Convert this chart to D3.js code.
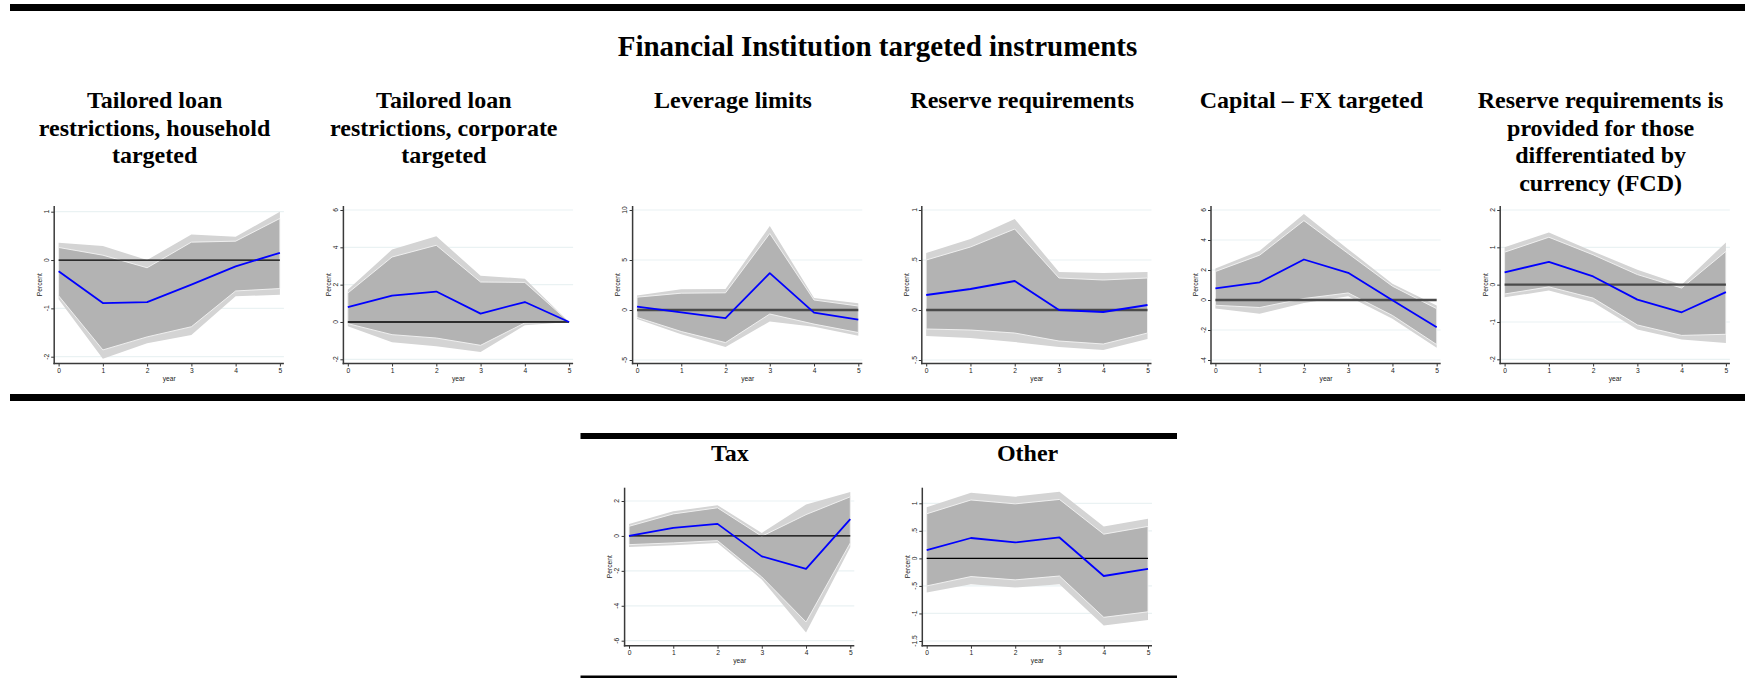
<!DOCTYPE html>
<html>
<head>
<meta charset="utf-8">
<script src="https://cdn.jsdelivr.net/npm/d3@7"></script>
<style>
  body { margin: 0; background: #fff; }
  svg { display: block; }
</style>
</head>
<body>
<svg id="chart" width="1745" height="678"></svg>
<script>
// ---- Data: impulse responses (Percent) by year, with 68% and 90% bands ----
const years = [0, 1, 2, 3, 4, 5];

const mainTitle = "Financial Institution targeted instruments";

// Tailored loan restrictions, household targeted
const hhIrf  = [-0.23, -0.89, -0.87, -0.51, -0.13, 0.15];
const hhLo68 = [-0.74, -1.86, -1.59, -1.38, -0.64, -0.59];
const hhHi68 = [0.26, 0.10, -0.16, 0.37, 0.39, 0.86];
const hhLo90 = [-0.81, -2.04, -1.72, -1.55, -0.75, -0.72];
const hhHi90 = [0.36, 0.29, 0.00, 0.53, 0.48, 1.00];
const hhTicks = [-2, -1, 0, 1];

// Tailored loan restrictions, corporate targeted
const corpIrf  = [0.79, 1.41, 1.63, 0.45, 1.07, 0];
const corpLo68 = [-0.09, -0.68, -0.86, -1.25, -0.05, 0];
const corpHi68 = [1.55, 3.48, 4.11, 2.14, 2.12, 0];
const corpLo90 = [-0.23, -1.09, -1.30, -1.61, -0.18, 0];
const corpHi90 = [1.73, 3.88, 4.59, 2.48, 2.32, 0];
const corpTicks = [-2, 0, 2, 4, 6];

// Leverage limits
const levIrf  = [0.34, -0.23, -0.81, 3.69, -0.27, -0.97];
const levLo68 = [-0.74, -2.15, -3.26, -0.40, -1.41, -2.25];
const levHi68 = [1.28, 1.68, 1.72, 7.65, 1.00, 0.40];
const levLo90 = [-0.91, -2.42, -3.69, -1.14, -1.68, -2.58];
const levHi90 = [1.44, 2.08, 2.11, 8.39, 1.21, 0.67];
const levTicks = [-5, 0, 5, 10];

// Reserve requirements
const rrIrf  = [0.15, 0.21, 0.29, 0.00, -0.02, 0.05];
const rrLo68 = [-0.19, -0.20, -0.23, -0.31, -0.34, -0.23];
const rrHi68 = [0.50, 0.63, 0.81, 0.32, 0.30, 0.32];
const rrLo90 = [-0.26, -0.28, -0.32, -0.37, -0.40, -0.29];
const rrHi90 = [0.57, 0.71, 0.91, 0.38, 0.37, 0.38];
const rrTicks = [-0.5, 0, 0.5, 1];

// Capital – FX targeted
const fxIrf  = [0.78, 1.18, 2.70, 1.81, -0.02, -1.81];
const fxLo68 = [-0.35, -0.50, 0.10, 0.47, -1.03, -2.97];
const fxHi68 = [1.90, 2.99, 5.29, 3.10, 0.92, -0.58];
const fxLo90 = [-0.57, -0.91, -0.20, 0.25, -1.25, -3.19];
const fxHi90 = [2.10, 3.28, 5.74, 3.39, 1.09, -0.36];
const fxTicks = [-4, -2, 0, 2, 4, 6];

// Reserve requirements differentiated by currency (FCD)
const fcdIrf  = [0.33, 0.61, 0.22, -0.40, -0.74, -0.20];
const fcdLo68 = [-0.25, -0.06, -0.36, -1.08, -1.36, -1.33];
const fcdHi68 = [0.87, 1.27, 0.80, 0.27, -0.09, 0.89];
const fcdLo90 = [-0.34, -0.16, -0.47, -1.20, -1.47, -1.56];
const fcdHi90 = [1.00, 1.40, 0.89, 0.40, 0.00, 1.13];
const fcdTicks = [-2, -1, 0, 1, 2];

// Tax
const taxIrf  = [0.00, 0.46, 0.69, -1.17, -1.89, 0.96];
const taxLo68 = [-0.50, -0.40, -0.27, -2.35, -4.93, -0.40];
const taxHi68 = [0.55, 1.26, 1.61, -0.02, 1.22, 2.24];
const taxLo90 = [-0.63, -0.54, -0.40, -2.50, -5.53, -0.65];
const taxHi90 = [0.69, 1.41, 1.76, 0.17, 1.80, 2.52];
const taxTicks = [-6, -4, -2, 0, 2];

// Other
const othIrf  = [0.15, 0.37, 0.29, 0.38, -0.32, -0.19];
const othLo68 = [-0.50, -0.33, -0.39, -0.32, -1.07, -0.97];
const othHi68 = [0.81, 1.06, 0.99, 1.07, 0.44, 0.58];
const othLo90 = [-0.62, -0.47, -0.53, -0.47, -1.22, -1.12];
const othHi90 = [0.93, 1.19, 1.12, 1.21, 0.58, 0.72];
const othTicks = [-1.5, -1, -0.5, 0, 0.5, 1];

const panelTitles = [
  ["Tailored loan", "restrictions, household", "targeted"],
  ["Tailored loan", "restrictions, corporate", "targeted"],
  ["Leverage limits"],
  ["Reserve requirements"],
  ["Capital \u2013 FX targeted"],
  ["Reserve requirements is", "provided for those", "differentiated by", "currency (FCD)"],
  ["Tax"],
  ["Other"]
];

const series = [
  { irf: hhIrf,   lo68: hhLo68,   hi68: hhHi68,   lo90: hhLo90,   hi90: hhHi90,   ticks: hhTicks },
  { irf: corpIrf, lo68: corpLo68, hi68: corpHi68, lo90: corpLo90, hi90: corpHi90, ticks: corpTicks },
  { irf: levIrf,  lo68: levLo68,  hi68: levHi68,  lo90: levLo90,  hi90: levHi90,  ticks: levTicks },
  { irf: rrIrf,   lo68: rrLo68,   hi68: rrHi68,   lo90: rrLo90,   hi90: rrHi90,   ticks: rrTicks },
  { irf: fxIrf,   lo68: fxLo68,   hi68: fxHi68,   lo90: fxLo90,   hi90: fxHi90,   ticks: fxTicks },
  { irf: fcdIrf,  lo68: fcdLo68,  hi68: fcdHi68,  lo90: fcdLo90,  hi90: fcdHi90,  ticks: fcdTicks },
  { irf: taxIrf,  lo68: taxLo68,  hi68: taxHi68,  lo90: taxLo90,  hi90: taxHi90,  ticks: taxTicks },
  { irf: othIrf,  lo68: othLo68,  hi68: othHi68,  lo90: othLo90,  hi90: othHi90,  ticks: othTicks }
];

// ---- Layout ----
const TOP_W = 289.2, TOP_X0 = 10;
const layout = [
  { left: TOP_X0 + 0 * TOP_W, w: TOP_W, titleY: 100, tickTop: 211.7, tickBot: 356.7, axisTop: 206, axisY: 363.5, zero: "thin" },
  { left: TOP_X0 + 1 * TOP_W, w: TOP_W, titleY: 100, tickTop: 210,   tickBot: 359.3, axisTop: 206, axisY: 363.5, zero: "thin" },
  { left: TOP_X0 + 2 * TOP_W, w: TOP_W, titleY: 100, tickTop: 210,   tickBot: 360,   axisTop: 206, axisY: 363.5, zero: "thick" },
  { left: TOP_X0 + 3 * TOP_W, w: TOP_W, titleY: 100, tickTop: 210,   tickBot: 360,   axisTop: 206, axisY: 363.5, zero: "thick" },
  { left: TOP_X0 + 4 * TOP_W, w: TOP_W, titleY: 100, tickTop: 210,   tickBot: 360,   axisTop: 206, axisY: 363.5, zero: "thick" },
  { left: TOP_X0 + 5 * TOP_W, w: TOP_W, titleY: 100, tickTop: 210,   tickBot: 359.3, axisTop: 206, axisY: 363.5, zero: "thick" },
  { left: 580.4, w: 299, titleY: 453, tickTop: 501,   tickBot: 640.7, axisTop: 487.7, axisY: 645.7, zero: "thin" },
  { left: 878.1, w: 299, titleY: 453, tickTop: 503.3, tickBot: 641,   axisTop: 487.7, axisY: 645.7, zero: "thin" }
];

const svg = d3.select("#chart");
const serif = "'Liberation Serif', 'Times New Roman', serif";
const sans = "'Liberation Sans', Arial, sans-serif";

// Horizontal rules framing the sections
const rules = [
  { x1: 10, x2: 1745, y: 4, h: 7 },
  { x1: 10, x2: 1745, y: 394, h: 7 },
  { x1: 580.5, x2: 1177, y: 433, h: 6 },
  { x1: 580.5, x2: 1177, y: 675.5, h: 6 }
];
svg.selectAll("rect.rule").data(rules).join("rect")
  .attr("class", "rule")
  .attr("x", d => d.x1).attr("y", d => d.y)
  .attr("width", d => d.x2 - d.x1).attr("height", d => d.h)
  .attr("fill", "#000");

svg.append("text")
  .attr("x", 877.5).attr("y", 55.5)
  .attr("text-anchor", "middle")
  .attr("font-family", serif).attr("font-weight", "bold")
  .attr("font-size", 29)
  .text(mainTitle);

// Stata-style number labels: drop the leading zero (.5, -.5)
const fmtTick = v => {
  let s = String(v);
  s = s.replace(/^0\./, ".").replace(/^-0\./, "-.");
  return s;
};

series.forEach((s, i) => {
  const L = layout[i];
  const g = svg.append("g");

  // title
  const tLines = panelTitles[i];
  g.append("text")
    .attr("text-anchor", "middle")
    .attr("font-family", serif).attr("font-weight", "bold")
    .attr("font-size", 24)
    .selectAll("tspan").data(tLines).join("tspan")
      .attr("x", L.left + L.w / 2)
      .attr("y", (d, k) => L.titleY + 8 + k * 27.5)
      .text(d => d);

  const axisX = L.left + 44.2;
  const x = d3.scaleLinear().domain([0, 5]).range([L.left + 48.6, L.left + 269.9]);
  const tickMin = d3.min(s.ticks), tickMax = d3.max(s.ticks);
  const y = d3.scaleLinear().domain([tickMin, tickMax]).range([L.tickBot, L.tickTop]);
  const plotRight = x(5) + 4;

  // gridlines
  g.append("g").selectAll("line").data(s.ticks.filter(t => t !== 0)).join("line")
    .attr("x1", axisX).attr("x2", plotRight)
    .attr("y1", d => y(d)).attr("y2", d => y(d))
    .attr("stroke", "#eaf2f3").attr("stroke-width", 1.2);

  const rows = years.map((yr, k) => ({
    yr, irf: s.irf[k], lo68: s.lo68[k], hi68: s.hi68[k], lo90: s.lo90[k], hi90: s.hi90[k]
  }));

  const band90 = d3.area().x(d => x(d.yr)).y0(d => y(d.lo90)).y1(d => y(d.hi90));
  const band68 = d3.area().x(d => x(d.yr)).y0(d => y(d.lo68)).y1(d => y(d.hi68));

  g.append("path").datum(rows).attr("d", band90).attr("fill", "#d4d4d4");
  g.append("path").datum(rows).attr("d", band68)
    .attr("fill", "#b3b3b3").attr("stroke", "#f4f4f4").attr("stroke-width", 0.9);

  // zero line
  const thick = L.zero === "thick";
  g.append("line")
    .attr("x1", x(0)).attr("x2", x(5))
    .attr("y1", y(0)).attr("y2", y(0))
    .attr("stroke", thick ? "#4a4a4a" : "#000")
    .attr("stroke-width", thick ? 2.4 : 1.3);

  // response line
  g.append("path").datum(rows)
    .attr("d", d3.line().x(d => x(d.yr)).y(d => y(d.irf)))
    .attr("fill", "none").attr("stroke", "#0000ff").attr("stroke-width", 1.8)
    .attr("stroke-linejoin", "round");

  // y axis
  const yAxis = d3.axisLeft(y).tickValues(s.ticks).tickSize(3).tickPadding(2).tickFormat(() => "");
  const ya = g.append("g").attr("transform", `translate(${axisX},0)`).call(yAxis);
  ya.select(".domain").remove();
  ya.selectAll(".tick line").attr("stroke", "#333").attr("stroke-width", 1);
  g.append("line")
    .attr("x1", axisX).attr("x2", axisX)
    .attr("y1", L.axisTop).attr("y2", L.axisY + 0.8)
    .attr("stroke", "#3a3a3a").attr("stroke-width", 1.5);
  g.append("g").selectAll("text").data(s.ticks).join("text")
    .attr("transform", d => `translate(${axisX - 7.6},${y(d)}) rotate(-90)`)
    .attr("text-anchor", "middle").attr("dy", "0.35em")
    .attr("font-family", sans).attr("font-size", 6.7).attr("fill", "#222")
    .text(fmtTick);

  // x axis
  const xAxis = d3.axisBottom(x).tickValues(years).tickSize(3).tickPadding(1.5).tickFormat(d3.format("d"));
  const xa = g.append("g").attr("transform", `translate(0,${L.axisY})`).call(xAxis);
  xa.select(".domain").remove();
  xa.selectAll(".tick line").attr("stroke", "#333").attr("stroke-width", 1);
  xa.selectAll(".tick text").attr("font-family", sans).attr("font-size", 6.7).attr("fill", "#222");
  g.append("line")
    .attr("x1", axisX - 0.75).attr("x2", plotRight)
    .attr("y1", L.axisY).attr("y2", L.axisY)
    .attr("stroke", "#3a3a3a").attr("stroke-width", 1.5);

  // axis titles
  g.append("text")
    .attr("x", (x(0) + x(5)) / 2).attr("y", L.axisY + 17.5)
    .attr("text-anchor", "middle")
    .attr("font-family", sans).attr("font-size", 6.7).attr("fill", "#222")
    .text("year");
  g.append("text")
    .attr("transform", `translate(${axisX - 15},${(L.axisTop + L.axisY) / 2}) rotate(-90)`)
    .attr("text-anchor", "middle").attr("dy", "0.35em")
    .attr("font-family", sans).attr("font-size", 6.7).attr("fill", "#222")
    .text("Percent");
});
</script>
</body>
</html>
